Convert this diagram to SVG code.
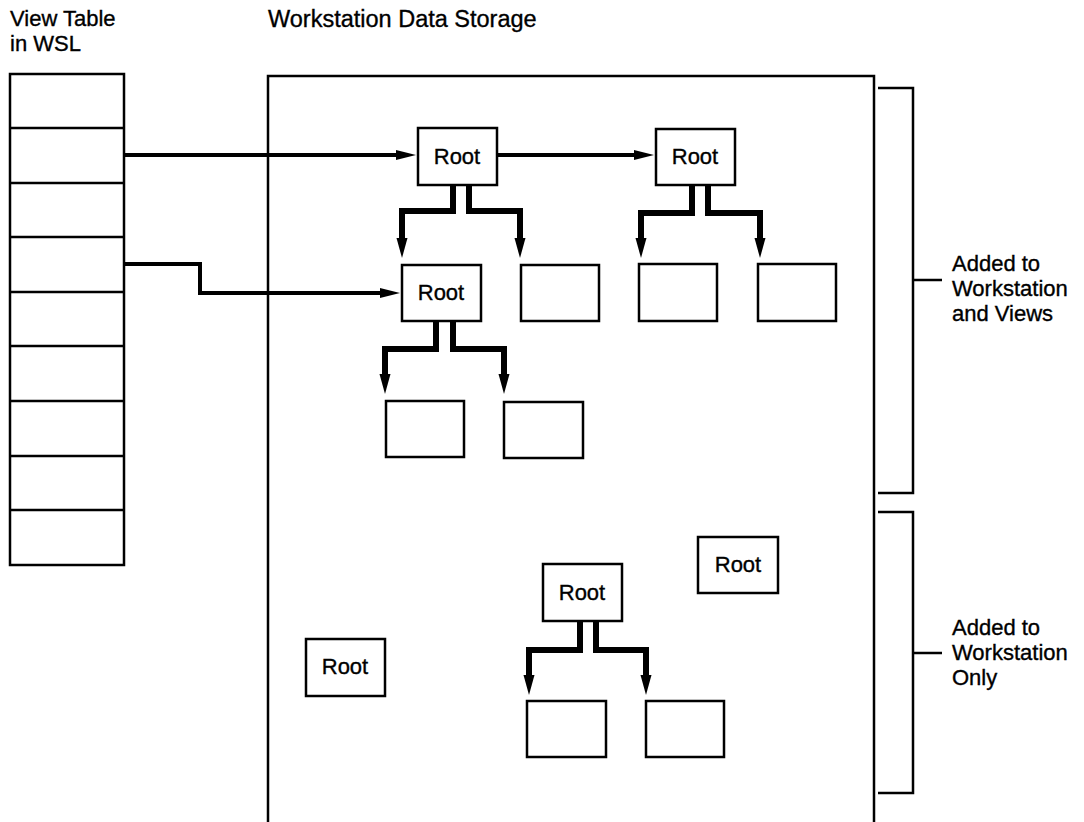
<svg xmlns="http://www.w3.org/2000/svg" width="1084" height="822" viewBox="0 0 1084 822">
<style>
  .t{font-family:"Liberation Sans",Arial,sans-serif;font-size:22px;fill:#000;stroke:#000;stroke-width:0.35}
  .tt{font-size:23.5px}
  .c{text-anchor:middle}
  .box{fill:#fff;stroke:#000;stroke-width:2.5}
  .tbl{fill:none;stroke:#000;stroke-width:2.5}
  .brk{fill:none;stroke:#000;stroke-width:2.5}
  .h{fill:none;stroke:#000;stroke-width:4;stroke-linejoin:miter}
  .k{fill:none;stroke:#000;stroke-width:6;stroke-linejoin:miter}
</style>
<defs>
  <marker id="ah" markerUnits="userSpaceOnUse" markerWidth="22" markerHeight="12" viewBox="0 0 22 12" refX="0" refY="6" orient="auto">
    <path d="M0,1 L20,6 L0,11 z" fill="#000"/>
  </marker>
  <marker id="ak" markerUnits="userSpaceOnUse" markerWidth="22" markerHeight="12" viewBox="0 0 22 12" refX="0" refY="6" orient="auto">
    <path d="M0,0.5 L20,6 L0,11.5 z" fill="#000"/>
  </marker>
</defs>
<rect width="1084" height="822" fill="#fff"/>

<g id="titles">
  <text class="t" x="10" y="26">View Table</text>
  <text class="t" x="10" y="51">in WSL</text>
  <text class="t tt" x="268" y="27">Workstation Data Storage</text>
</g>

<g id="view-table">
  <rect class="tbl" x="10" y="74" width="114" height="491"/>
  <path class="tbl" d="M10,128H124M10,183H124M10,237H124M10,292H124M10,346H124M10,401H124M10,456H124M10,510H124"/>
</g>

<g id="storage">
  <rect class="tbl" x="268" y="76" width="606" height="780"/>
</g>

<g id="connectors">
  <path class="h" d="M124,155 H396" marker-end="url(#ah)"/>
  <path class="h" d="M497,155 H634" marker-end="url(#ah)"/>
  <path class="h" d="M124,264 H200 V293 H380" marker-end="url(#ah)"/>
  <path class="k" d="M453,185 V211 H402 V238" marker-end="url(#ak)"/>
  <path class="k" d="M469,185 V211 H520 V238" marker-end="url(#ak)"/>
  <path class="k" d="M692,185 V213 H641 V238" marker-end="url(#ak)"/>
  <path class="k" d="M708,185 V213 H760 V238" marker-end="url(#ak)"/>
  <path class="k" d="M436,321 V349 H385 V374" marker-end="url(#ak)"/>
  <path class="k" d="M453,321 V349 H504 V374" marker-end="url(#ak)"/>
  <path class="k" d="M580,621 V650 H529 V675" marker-end="url(#ak)"/>
  <path class="k" d="M596,621 V650 H646 V675" marker-end="url(#ak)"/>
</g>

<g id="root1"><rect class="box" x="418" y="128" width="79" height="57"/><text class="t c" x="457" y="164">Root</text></g>
<g id="root2"><rect class="box" x="656" y="129" width="79" height="56"/><text class="t c" x="695" y="164">Root</text></g>
<g id="root3"><rect class="box" x="402" y="265" width="79" height="56"/><text class="t c" x="441" y="300">Root</text></g>
<g id="child1b"><rect class="box" x="521" y="265" width="78" height="56"/></g>
<g id="child2a"><rect class="box" x="639" y="264" width="78" height="57"/></g>
<g id="child2b"><rect class="box" x="758" y="264" width="78" height="57"/></g>
<g id="child3a"><rect class="box" x="386" y="401" width="78" height="56"/></g>
<g id="child3b"><rect class="box" x="504" y="402" width="79" height="56"/></g>
<g id="root5"><rect class="box" x="698" y="537" width="80" height="56"/><text class="t c" x="738" y="572">Root</text></g>
<g id="root4"><rect class="box" x="543" y="564" width="79" height="57"/><text class="t c" x="582" y="600">Root</text></g>
<g id="child4a"><rect class="box" x="527" y="701" width="79" height="56"/></g>
<g id="child4b"><rect class="box" x="646" y="701" width="78" height="56"/></g>
<g id="root6"><rect class="box" x="306" y="639" width="79" height="57"/><text class="t c" x="345" y="674">Root</text></g>

<g id="bracket-views">
  <path class="brk" d="M878,88 H913 V493 H878 M913,280 H942"/>
  <text class="t" x="952" y="271">Added to</text>
  <text class="t" x="952" y="296">Workstation</text>
  <text class="t" x="952" y="321">and Views</text>
</g>
<g id="bracket-only">
  <path class="brk" d="M878,512 H913 V793 H878 M913,653 H942"/>
  <text class="t" x="952" y="635">Added to</text>
  <text class="t" x="952" y="660">Workstation</text>
  <text class="t" x="952" y="685">Only</text>
</g>
</svg>
